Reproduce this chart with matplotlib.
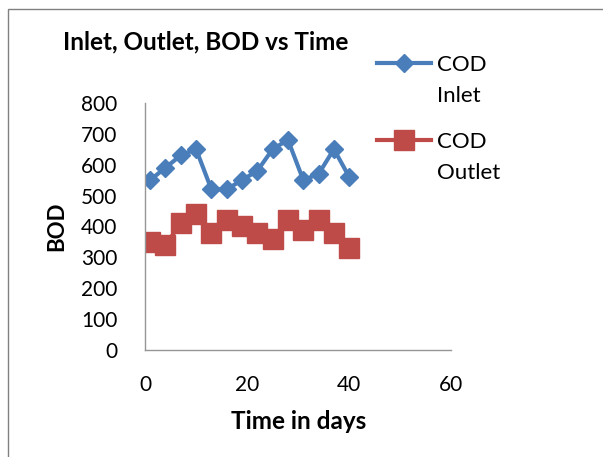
import matplotlib.pyplot as plt
from matplotlib.lines import Line2D
from matplotlib.patches import Rectangle

# 数据
days = [1, 4, 7, 10, 13, 16, 19, 22, 25, 28, 31, 34, 37, 40]
cod_inlet = [550, 590, 630, 650, 520, 520, 550, 580, 650, 680, 550, 570, 650, 560]
cod_outlet = [350, 340, 410, 440, 380, 420, 400, 380, 360, 420, 390, 420, 380, 330]
series_names = ['COD\nInlet', 'COD\nOutlet']

plt.rcParams['font.family'] = ['Lato', 'DejaVu Sans']

fig = plt.figure(figsize=(6.03, 4.57), dpi=100)
ax = fig.add_axes([0.2405, 0.234, 0.508, 0.541])

blue = '#4A7EBB'
red = '#BE4B48'
ax.plot(days, cod_inlet, color=blue, lw=3, marker='D', ms=9)
ax.plot(days, cod_outlet, color=red, lw=3, marker='s', ms=14)

ax.set_xlim(0, 60)
ax.set_ylim(0, 800)
ax.set_xticks([0, 20, 40, 60])
ax.set_yticks(range(0, 801, 100))
ax.tick_params(length=0, labelsize=15, pad=18, colors='black')
ax.tick_params(axis='y', pad=20)
for s in ['top', 'right']:
    ax.spines[s].set_visible(False)
for s in ['left', 'bottom']:
    ax.spines[s].set_color('#969696')
    ax.spines[s].set_linewidth(1)

ax.set_xlabel('Time in days', fontsize=17.5, fontweight='bold', labelpad=11)
ax.set_ylabel('BOD', fontsize=16, fontweight='bold', labelpad=10)
fig.text(0.105, 0.908, 'Inlet, Outlet, BOD vs Time', fontsize=17.5, fontweight='bold', va='center')

# 图例：标记放在第一行旁边
handles = [Line2D([], [], color=blue, lw=3, marker='D', ms=9),
           Line2D([], [], color=red, lw=3, marker='s', ms=14)]
leg = fig.legend(handles, [n.split('\n')[0] for n in series_names],
                 loc='upper left', bbox_to_anchor=(0.626, 0.88),
                 frameon=False, fontsize=16, handlelength=2.4, labelspacing=2.57,
                 handletextpad=0.3, borderaxespad=0, borderpad=0)
fig.canvas.draw()
for t, name in zip(leg.get_texts(), series_names):
    bb = t.get_window_extent()
    fig.text(bb.x0, bb.y0 - 31, name.split('\n')[1], transform=None,
             fontsize=16, va='bottom', ha='left')

fig.patches.append(Rectangle((0.013, -0.1), 1.1, 1.08, transform=fig.transFigure,
                             fill=False, edgecolor='#808080', lw=1))

fig.savefig('out.png', dpi=100)
